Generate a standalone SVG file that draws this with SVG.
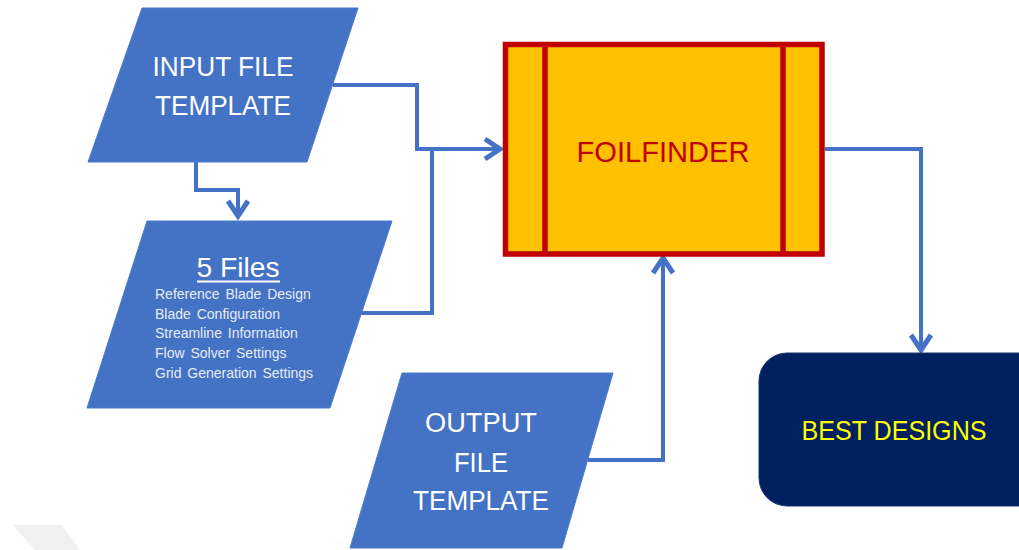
<svg xmlns="http://www.w3.org/2000/svg" width="1019" height="550" viewBox="0 0 1019 550">
  <defs>
    <marker id="arr" markerUnits="userSpaceOnUse" markerWidth="26" markerHeight="26" viewBox="0 0 26 26" refX="20" refY="13" orient="auto">
      <path d="M5,3 L20,13 L5,23" fill="none" stroke="#4472c4" stroke-width="5" stroke-linejoin="miter" stroke-linecap="butt"/>
    </marker>
    <style>
      .para { fill: #4472c4; stroke: #4a7bd0; stroke-width: 1; }
      .lbl { font-family: "Liberation Sans", Arial, sans-serif; fill: #ffffff; text-anchor: middle; }
      .list { font-family: "Liberation Sans", Arial, sans-serif; fill: #e6ecf8; font-size: 14px; word-spacing: 2px; }
      .conn { fill: none; stroke: #4472c4; stroke-width: 4; stroke-linejoin: miter; }
    </style>
  </defs>
  <rect width="1019" height="550" fill="#ffffff"/>
  <polygon points="13,525 62,525 80,550 35,550" fill="#f0f0f0"/>

  <g id="connectors">
    <polyline class="conn" points="333,85 417,85 417,149 500,149" marker-end="url(#arr)"/>
    <polyline class="conn" points="361,313 432,313 432,149"/>
    <polyline class="conn" points="196,162 196,190 238,190 238,216" marker-end="url(#arr)"/>
    <polyline class="conn" points="588,460 663,460 663,258" marker-end="url(#arr)"/>
    <polyline class="conn" points="825,149 921,149 921,350" marker-end="url(#arr)"/>
  </g>

  <g id="input-file-template">
    <polygon class="para" points="142,8 358,8 307,162 88,162"/>
    <text class="lbl" x="223" y="76" font-size="27" textLength="141" lengthAdjust="spacingAndGlyphs">INPUT FILE</text>
    <text class="lbl" x="223" y="115" font-size="27" textLength="136" lengthAdjust="spacingAndGlyphs">TEMPLATE</text>
  </g>

  <g id="five-files">
    <polygon class="para" points="147,221 392,221 330,408 87,408"/>
    <text class="lbl" x="238" y="277" font-size="28" textLength="83" lengthAdjust="spacingAndGlyphs">5 Files</text>
    <line x1="197" y1="281.5" x2="280" y2="281.5" stroke="#ffffff" stroke-width="2"/>
    <text class="list" x="155" y="299">Reference  Blade  Design</text>
    <text class="list" x="155" y="319">Blade  Configuration</text>
    <text class="list" x="155" y="338">Streamline  Information</text>
    <text class="list" x="155" y="358">Flow  Solver  Settings</text>
    <text class="list" x="155" y="378">Grid  Generation  Settings</text>
  </g>

  <g id="foilfinder">
    <rect x="505.5" y="44.5" width="316.5" height="209.5" fill="#ffc000" stroke="#c00000" stroke-width="5.5"/>
    <line x1="545" y1="44.5" x2="545" y2="254" stroke="#c00000" stroke-width="5.5"/>
    <line x1="783" y1="44.5" x2="783" y2="254" stroke="#c00000" stroke-width="5.5"/>
    <text x="663" y="162" font-family="Liberation Sans, Arial, sans-serif" font-size="30" fill="#c00000" text-anchor="middle" textLength="173" lengthAdjust="spacingAndGlyphs">FOILFINDER</text>
  </g>

  <g id="output-file-template">
    <polygon class="para" points="402,373 613,373 562,548 350,548"/>
    <text class="lbl" x="481" y="432" font-size="27" textLength="112" lengthAdjust="spacingAndGlyphs">OUTPUT</text>
    <text class="lbl" x="481" y="472" font-size="27" textLength="54" lengthAdjust="spacingAndGlyphs">FILE</text>
    <text class="lbl" x="481" y="510" font-size="27" textLength="136" lengthAdjust="spacingAndGlyphs">TEMPLATE</text>
  </g>

  <g id="best-designs">
    <rect x="759" y="353" width="290" height="153" rx="28" ry="28" fill="#002060" stroke="#1a3570" stroke-width="1"/>
    <text x="894" y="440" font-family="Liberation Sans, Arial, sans-serif" font-size="27" fill="#ffff00" text-anchor="middle" textLength="185" lengthAdjust="spacingAndGlyphs">BEST DESIGNS</text>
  </g>
</svg>
